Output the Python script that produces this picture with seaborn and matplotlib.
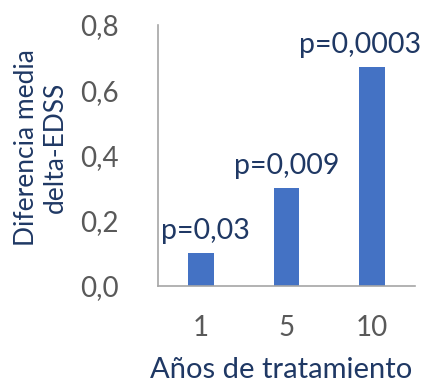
import matplotlib
matplotlib.use("Agg")
import matplotlib.pyplot as plt
import seaborn as sns
import pandas as pd

# Mean delta-EDSS difference by years of treatment
years = ["1", "5", "10"]
mean_diff = [0.10, 0.30, 0.67]
p_labels = ["p=0,03", "p=0,009", "p=0,0003"]
y_ticks = [0.0, 0.2, 0.4, 0.6, 0.8]
y_tick_labels = ["0,0", "0,2", "0,4", "0,6", "0,8"]

sns.set_theme(style="white")
plt.rcParams["font.family"] = ["Lato", "DejaVu Sans"]

NAVY = "#1F3864"
GRAY_TXT = "#595959"
AXIS_GRAY = "#A6A6A6"
BAR_BLUE = "#4472C4"

df = pd.DataFrame({"years": years, "diff": mean_diff})

fig = plt.figure(figsize=(4.23, 3.84), dpi=100)
ax = fig.add_axes([158 / 423, 1 - 286 / 384, (415 - 158) / 423, (286 - 25) / 384])

sns.barplot(data=df, x="years", y="diff", order=years, color=BAR_BLUE,
            width=0.3, saturation=1, ax=ax, edgecolor="none")

ax.set_xlim(-0.5, 2.5)
ax.set_ylim(0, 0.8)
ax.set_yticks(y_ticks)
ax.set_yticklabels(y_tick_labels)

ax.tick_params(axis="y", length=0, pad=28, labelsize=20, labelcolor=GRAY_TXT)
ax.tick_params(axis="x", length=0, pad=21, labelsize=20, labelcolor=GRAY_TXT)

for side in ["top", "right"]:
    ax.spines[side].set_visible(False)
for side in ["left", "bottom"]:
    ax.spines[side].set_color(AXIS_GRAY)
    ax.spines[side].set_linewidth(1.2)

ax.set_ylabel("Diferencia media\ndelta-EDSS", fontsize=19, color=NAVY,
              linespacing=1.2)
ax.yaxis.set_label_coords(-0.455, 0.53)
ax.yaxis.label.set_verticalalignment("center")

ax.set_xlabel("Años de tratamiento", fontsize=21, color=NAVY)
ax.xaxis.set_label_coords(0.478, -0.272)

# p-value labels above each bar; the last one is kept inside the figure
shifts = [3, 0, -9]
for i, (val, lab) in enumerate(zip(mean_diff, p_labels)):
    ax.annotate(lab, xy=(i, val), xytext=(shifts[i], 10.5),
                textcoords="offset points", ha="center", va="baseline",
                fontsize=20.5, color=NAVY, annotation_clip=False)

fig.savefig("out.png", dpi=100)
